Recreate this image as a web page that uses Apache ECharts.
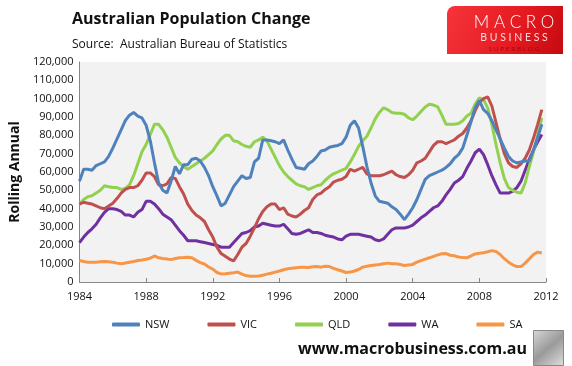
<!DOCTYPE html>
<html><head><meta charset="utf-8">
<script src="https://cdn.jsdelivr.net/npm/echarts@6/dist/echarts.min.js"></script>
<style>html,body{margin:0;padding:0;background:#fff}#c{width:572px;height:366px}</style>
</head><body><div id="c"></div>
<script>
// Quarterly rolling annual population change, thousands, starting 1984 Q1
const startYear = 1984;
const seriesNames = ['NSW','VIC','QLD','WA','SA'];
const xTicks = [1984,1988,1992,1996,2000,2004,2008,2012];
const nsw = [55,61.5,61.5,61,63.5,64.5,65.5,68.5,73,78,83,88,91,92.5,90.5,89.5,85.5,77,65,54,50,48.5,55,63,59,64,64,67,67.5,66,62.5,58,52,47,41.5,43,47.5,52,55,58,56.5,57,65.5,67.5,77.5,77.5,77,76.5,75.5,77.5,72,67,62.5,62,61.5,64.5,66,68.5,71.5,72,73.5,74,74.5,75.5,79,85.5,88,84,74,63,54,47,44,43.5,43,41,39.5,37,34,37,40.5,45,50.5,56,58,59,60,61,62.5,64.5,67.5,69.5,73,80,87.5,95,99,94,92,88,83,78,73,68.5,66,65,65.5,66,66,72,79,86];
const vic = [42.5,43.5,43,42.5,41.5,40.5,40,41.5,43,45.5,48.5,50.5,51.5,51.5,52.5,55.5,59.5,59.5,57.5,53,52.5,53.5,57,56.5,52,48,42.5,39,36.5,35,33,28.5,24.5,19,15.5,14,12.5,11.5,15,19,21,25,29.5,34.5,38.5,41,42.5,42.5,39.5,40.5,37,36,35.5,37,39,40.5,45,47.5,48.5,50.5,52,54.5,55.5,56,57.5,61.5,60.5,61.5,62.5,59,58,58,58,58.5,59.5,60.5,58.5,57.5,57,58.5,61,65,66,67.5,71,74.5,76.5,76.5,75.5,76.5,77.5,79.5,81,84,88,93.5,98,100,101,96,87,78,70,65,63,62.5,64.5,67.5,72,78.5,86,94];
const qld = [42.5,45,46.5,47,48.5,50,52.5,52,51.5,51.5,50.5,51,53,58,64.5,71,75,80.5,86,86,83,79,73.5,68,65,63,61.5,63,64.5,66,67.5,69.5,71.5,75,78,80,80,77,76.5,75,74,73.5,76.5,77.5,79,77,72.5,68,63.5,60,57.5,55.5,53.5,52.5,52,50.5,51.5,52.5,53,55.5,57.5,59,60,61,62,65.5,69.5,74,77,79.5,84,89,92.5,95,94,92.5,92,92,91.5,89.5,88.5,90.5,93,95.5,97,96.5,95.5,91,86,86,86,86.5,88,90.5,92,97,100.5,99.5,95,86,75,65,56.5,51.5,50,49,48.5,54,63,71,80,89.5];
const wa = [21.5,24.5,27,29,31.5,35,38,40,40,39.5,38.5,36.5,36.5,35.5,38,39.5,44,44,42.5,40,37,35.5,34,31,28,25.5,22.5,22.5,22.5,22,21.5,21,20.5,20,19,19,19,21.5,24,26.5,27,28,30,30.5,32,31.5,31,30.5,30.5,31.5,29,26.5,26,26.5,27.5,28.5,27,27,26.5,25.5,25,24.5,23.5,23,25,26,26,26,25.5,25,24.5,23,22.5,23.5,26,28.5,29.5,29.5,29.5,30,31,33,35,36.5,38.5,40.5,41.5,44,47.5,50.5,54,55.5,57.5,62,66,70.5,72.5,69.5,64,58,53,48.5,48.5,48.5,49.5,51.5,55,61,67,72,76.5,80.5];
const sa = [11.7,11.2,10.8,10.8,10.8,11,11.2,11,10.8,10.3,9.9,10.4,10.8,11.2,11.7,12,12.4,13,14.2,13.2,12.8,12.5,12.2,12.8,13.2,13.3,13.5,13.2,11.8,10.6,9.8,8.2,7,5.2,4.4,4.5,4.8,5,5.4,4.3,3.5,3.1,3.1,3.3,3.7,4.3,4.8,5.4,6,6.7,7.2,7.5,7.8,8,8.1,7.9,8.3,8.5,8.1,8.6,8.4,7.4,6.7,6,5.2,5.4,6,6.8,8.1,8.6,9,9.3,9.6,10,10.3,10,9.9,9.5,9,9.3,9.6,10.8,11.7,12.5,13.2,14,14.8,15.4,15.5,14.6,14.3,13.6,13.3,13.2,14.3,15.3,15.7,16,16.5,17.1,16.6,15,12.7,10.8,9.4,8.4,8.4,10.3,12.6,15,16.3,15.8];

const colors = ['#4f81bd','#c0504d','#92d050','#7030a0','#f79646'];
const allData = [nsw, vic, qld, wa, sa];
const font = '"Open Sans", "Liberation Sans", sans-serif';

const chart = echarts.init(document.getElementById('c'), null, {renderer:'canvas'});
const series = allData.map((arr, si) => ({
  name: seriesNames[si],
  type: 'line',
  showSymbol: false,
  symbol: 'none',
  lineStyle: {width: 3, color: colors[si]},
  itemStyle: {color: colors[si]},
  z: 5 - si,
  data: arr.map((v, i) => [startYear + i * 0.25, v * 1000])
}));

const logoFont = 'Lato, "Liberation Sans", sans-serif';
chart.setOption({
  animation: false,
  backgroundColor: '#fff',
  grid: {left: 72, right: 26, top: 62, bottom: 84, show: true, backgroundColor: '#f2f2f2', borderWidth: 0},
  title: {
    text: 'Australian Population Change',
    subtext: 'Source:  Australian Bureau of Statistics',
    left: 67, top: 6, itemGap: 12,
    textStyle: {fontFamily: font, fontSize: 16, fontWeight: 'bold', color: '#111'},
    subtextStyle: {fontFamily: font, fontSize: 12, color: '#111'}
  },
  legend: {
    data: seriesNames, left: 112, top: 319, padding: 0, itemWidth: 28, itemHeight: 4, itemGap: 38, icon: 'roundRect',
    textStyle: {fontFamily: font, fontSize: 11, color: '#111'}
  },
  xAxis: {
    type: 'value', min: 1984, max: 2012, interval: 4,
    axisLine: {show: true, lineStyle: {color: '#868686', width: 1}},
    axisTick: {show: true, inside: true, length: 4, lineStyle: {color: '#868686'}},
    splitLine: {show: false},
    axisLabel: {fontFamily: font, fontSize: 11, color: '#111', margin: 9, formatter: v => xTicks.includes(v) ? String(v) : ''}
  },
  yAxis: {
    type: 'value', min: 0, max: 120000, interval: 10000,
    name: 'Rolling Annual', nameLocation: 'middle', nameGap: 52, nameRotate: 90,
    nameTextStyle: {fontFamily: font, fontSize: 14, fontWeight: 'bold', color: '#111'},
    axisLine: {show: true, lineStyle: {color: '#868686', width: 1}},
    axisTick: {show: false},
    splitLine: {show: false},
    axisLabel: {fontFamily: font, fontSize: 11, color: '#111', margin: 6,
      formatter: v => v.toLocaleString('en-US')}
  },
  graphic: [
    {type: 'rect', left: 447, top: 6, shape: {width: 116, height: 48, r: [8,0,0,0]},
     style: {fill: new echarts.graphic.LinearGradient(0,0,1,1,[{offset:0,color:'#f5343a'},{offset:0.6,color:'#e41a20'},{offset:1,color:'#c40a10'}])}},
    {type: 'text', x: 514, y: 23, style: {text: 'M A C R O', fontFamily: logoFont, fontWeight: 300, fontSize: 17, fill: '#fff', align: 'center', verticalAlign: 'middle'}},
    {type: 'text', x: 514, y: 38, style: {text: 'B U S I N E S S', fontFamily: logoFont, fontSize: 10.5, fill: '#f8d8d8', align: 'center', verticalAlign: 'middle'}},
    {type: 'text', x: 514, y: 49, style: {text: 'S U P E R B L O G', fontFamily: logoFont, fontSize: 6.5, fill: '#a8080c', align: 'center', verticalAlign: 'middle'}},
    {type: 'text', left: 298, top: 341, style: {text: 'www.macrobusiness.com.au', fontFamily: font, fontSize: 16, fontWeight: 'bold', fill: '#111'}},
    {type: 'rect', left: 533, top: 330, shape: {width: 30, height: 35},
     style: {fill: new echarts.graphic.LinearGradient(0,0,1,1,[{offset:0,color:'#d8d8d8'},{offset:0.5,color:'#9a9a9a'},{offset:1,color:'#e0e0e0'}]), stroke: '#888', lineWidth: 1}}
  ],
  series: series
});
</script></body></html>
